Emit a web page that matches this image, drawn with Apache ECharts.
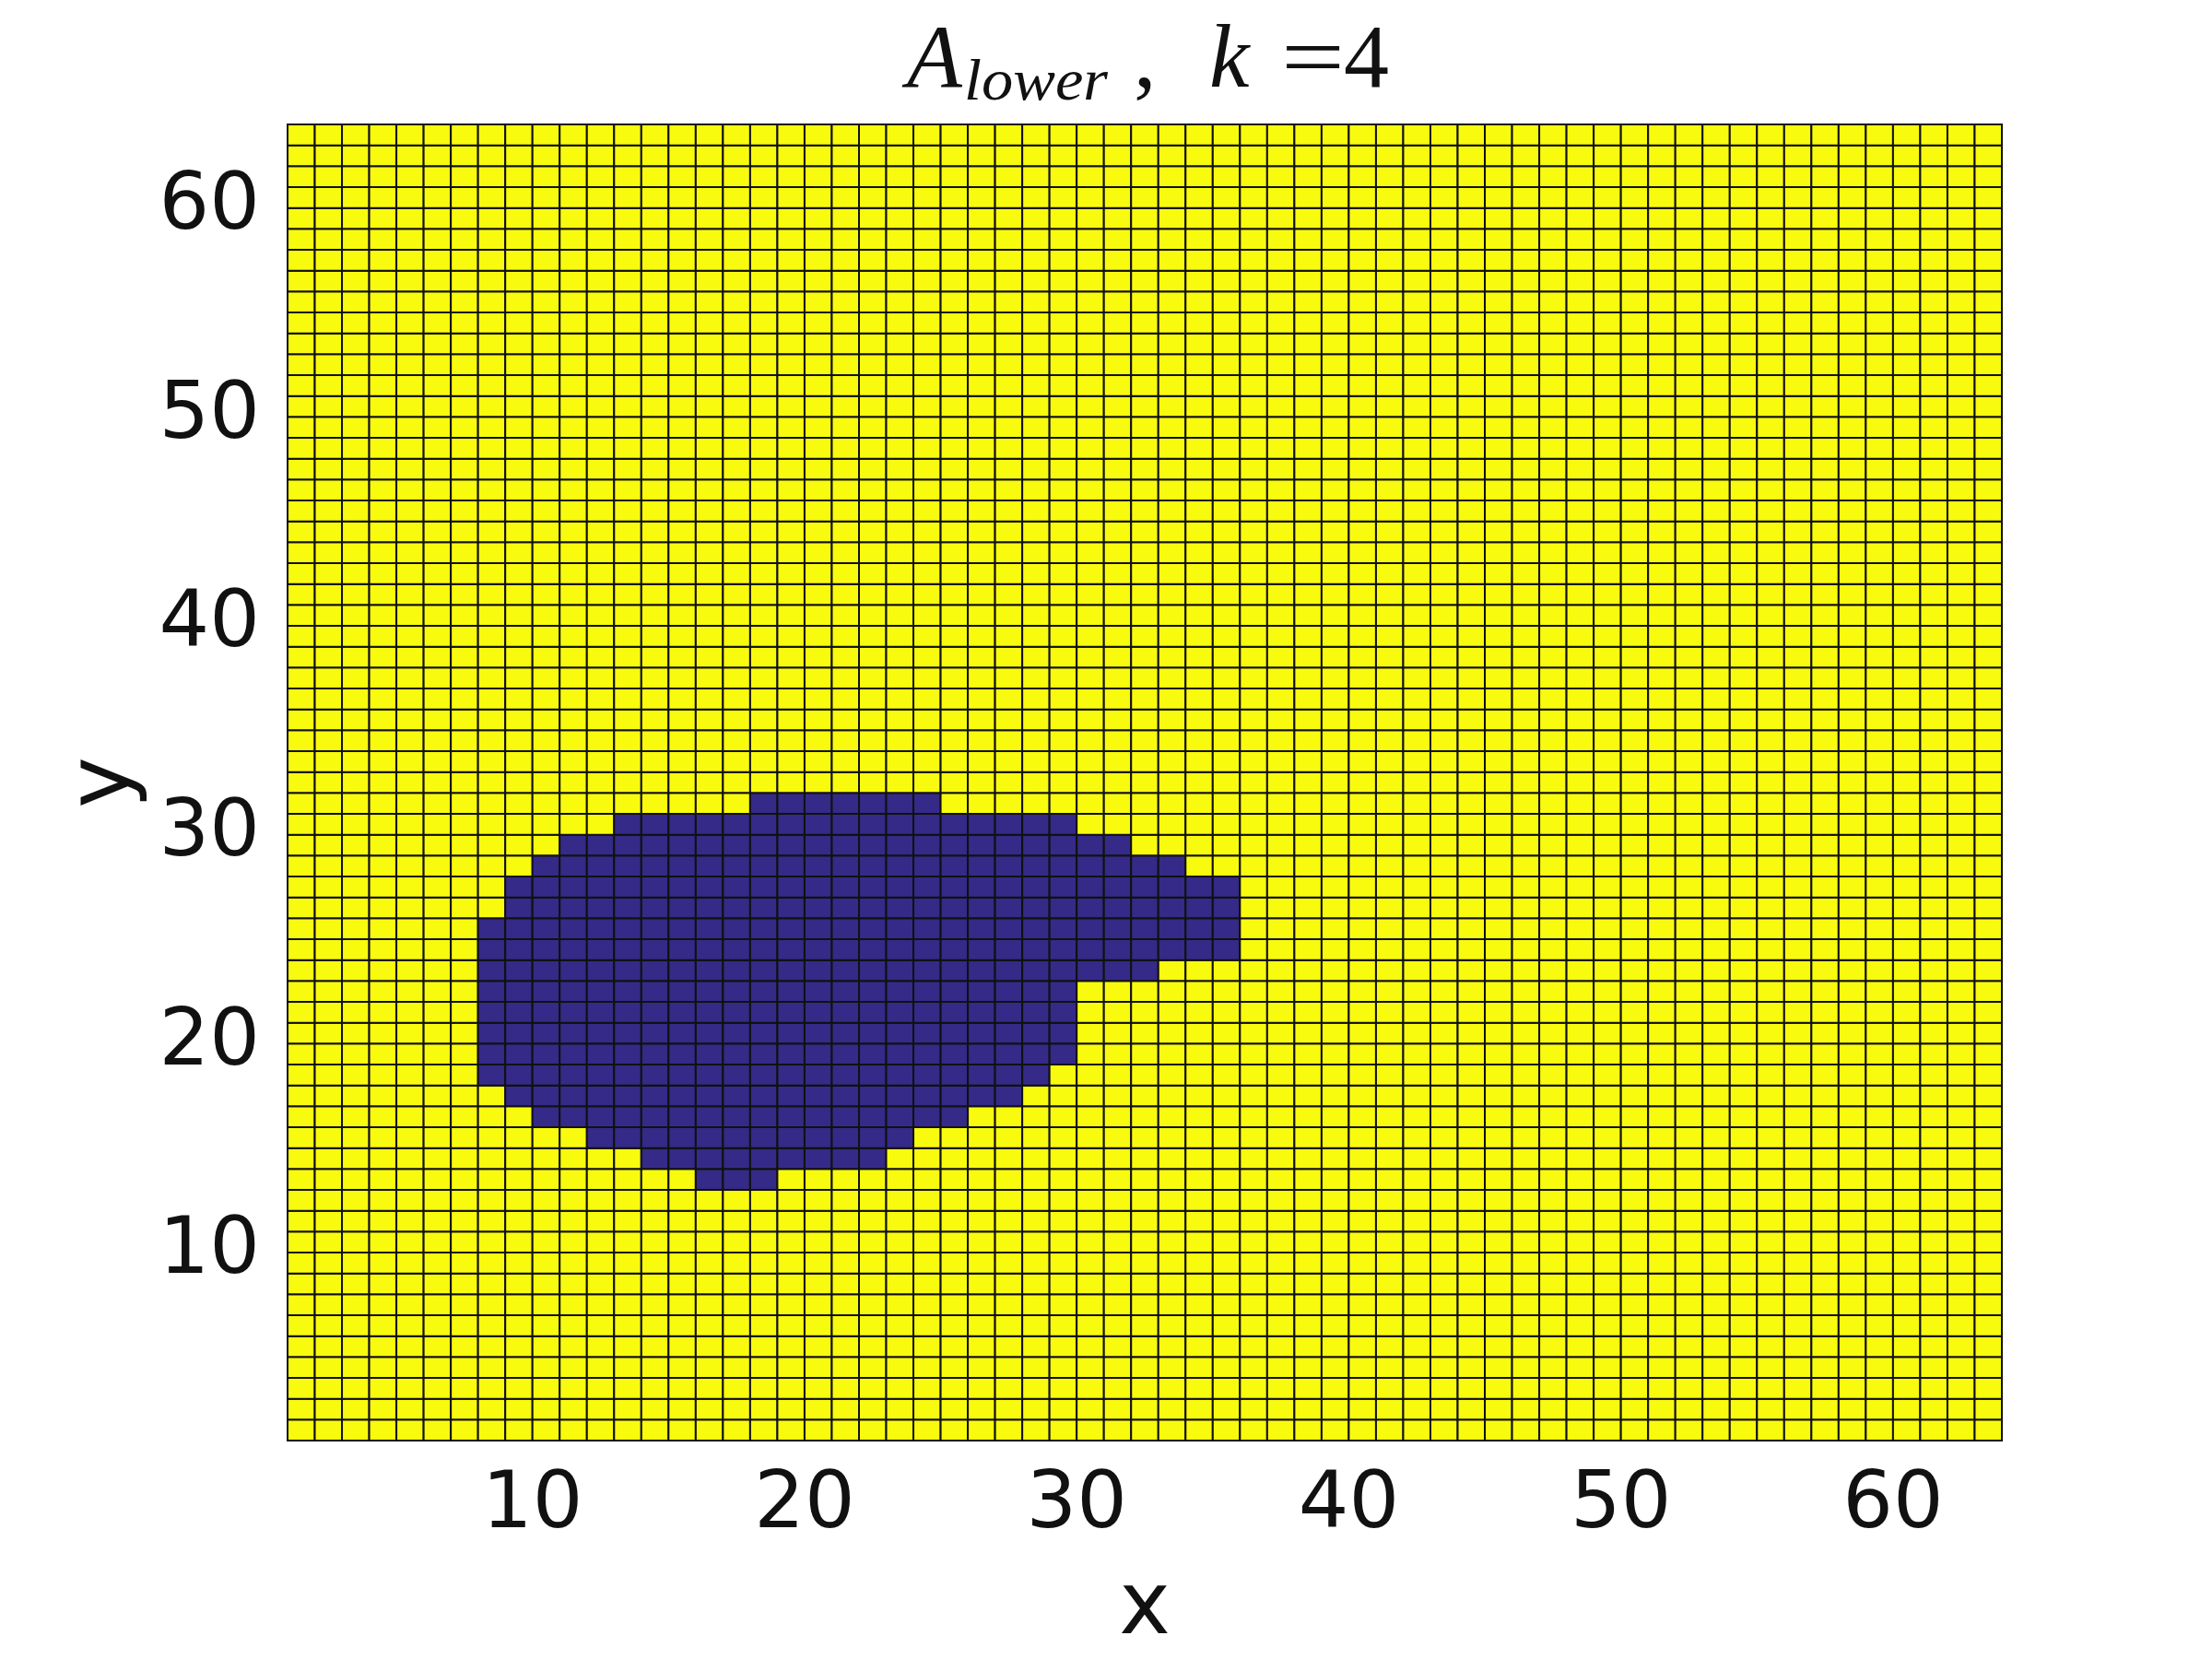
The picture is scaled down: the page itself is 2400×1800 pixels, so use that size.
<!DOCTYPE html>
<html>
<head>
<meta charset="utf-8">
<script src="https://cdn.jsdelivr.net/npm/echarts@6/dist/echarts.min.js"></script>
<style>
html, body { margin: 0; padding: 0; background: #fff; }
#chart { width: 2400px; height: 1800px; }
</style>
</head>
<body>
<div id="chart"></div>
<script>
var gridSize = 64;
var xTicks = [10, 20, 30, 40, 50, 60];
var yTicks = [10, 20, 30, 40, 50, 60];

// rows of the dark region: y cell, first and last x cell
var blobRows = [13, 14, 15, 16, 17, 18, 19, 20, 21, 22, 23, 24, 25, 26, 27, 28, 29, 30, 31];
var blobStart = [16, 14, 12, 10, 9, 8, 8, 8, 8, 8, 8, 8, 8, 9, 9, 10, 11, 13, 18];
var blobEnd = [18, 22, 23, 25, 27, 28, 29, 29, 29, 29, 32, 35, 35, 35, 35, 33, 31, 29, 24];

var cellColors = ['#352A87', '#F9FB0E'];

var buildCells = function () {
    var cells = [];
    for (var y = 1; y < gridSize; y++) {
        var r = blobRows.indexOf(y);
        for (var x = 1; x < gridSize; x++) {
            var v = 1;
            if (r >= 0 && x >= blobStart[r] && x <= blobEnd[r]) {
                v = 0;
            }
            cells.push([x, y, v]);
        }
    }
    return cells;
};

var renderCell = function (params, api) {
    var x = api.value(0);
    var y = api.value(1);
    var p0 = api.coord([x, y + 1]);
    var p1 = api.coord([x + 1, y]);
    return {
        type: 'rect',
        shape: { x: p0[0], y: p0[1], width: p1[0] - p0[0], height: p1[1] - p0[1] },
        style: { fill: cellColors[api.value(2)], stroke: '#111', lineWidth: 2 }
    };
};

var axisFont = 'DejaVu Sans';
var titleFont = 'Liberation Serif';

var makeAxis = function (ticks, name, margin, nameGap) {
    return {
        type: 'value',
        min: 1,
        max: gridSize,
        splitLine: { show: false },
        axisTick: { show: false },
        axisLine: { show: false },
        axisLabel: {
            customValues: ticks,
            fontSize: 86,
            fontFamily: axisFont,
            color: '#111',
            margin: margin
        },
        name: name,
        nameLocation: 'middle',
        nameGap: nameGap,
        nameTextStyle: { fontSize: 94, fontFamily: axisFont, color: '#111' }
    };
};

var titlePart = function (text, x, y, size, italic, scaleX) {
    return {
        type: 'text',
        x: x,
        y: y,
        scaleX: scaleX,
        style: {
            text: text,
            fontSize: size,
            fontFamily: titleFont,
            fontStyle: italic ? 'italic' : 'normal',
            fill: '#111',
            align: 'left',
            verticalAlign: 'middle'
        }
    };
};

var chart = echarts.init(document.getElementById('chart'));
chart.setOption({
    animation: false,
    backgroundColor: '#fff',
    grid: { left: 312, right: 228, top: 135, bottom: 234 },
    xAxis: makeAxis(xTicks, 'x', 29, 138),
    yAxis: makeAxis(yTicks, 'y', 30, 147),
    graphic: [
        titlePart('A', 984, 68, 98, true, 1),
        titlePart('lower', 1046, 91, 64, true, 1.07),
        titlePart(',', 1230, 68, 98, false, 1),
        titlePart('k', 1312, 68, 98, true, 1),
        titlePart('=', 1390, 68, 98, false, 1.25),
        titlePart('4', 1458, 68, 98, false, 1)
    ],
    series: [{
        type: 'custom',
        renderItem: renderCell,
        encode: { x: 0, y: 1 },
        data: buildCells()
    }]
});
</script>
</body>
</html>
